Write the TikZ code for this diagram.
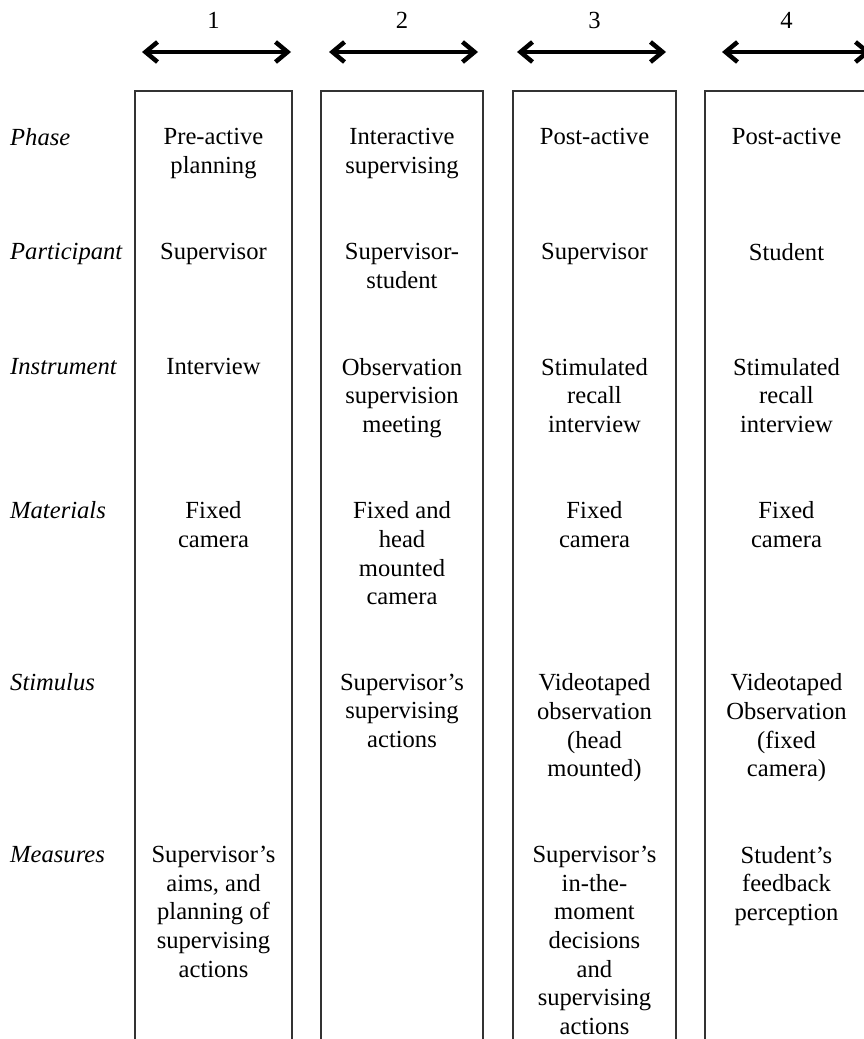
\documentclass[tikz,border=0pt]{standalone}
\usepackage{fontspec}
\setmainfont{Liberation Serif}
\usetikzlibrary{arrows.meta,positioning}

\begin{document}
\begin{tikzpicture}[x=1pt,y=-1pt,>={Straight Barb[length=12pt,width=20pt]},
    every node/.style={inner sep=0pt,font=\fontsize{24.6}{28.7}\selectfont},
    num/.style={anchor=base},
    cell/.style={align=center,anchor=north,yshift=16.7pt},
    row label/.style={anchor=base west,font=\fontsize{24.6}{28.7}\selectfont\itshape},
    col box/.style={draw=black!80,line width=1.4pt},
    span arrow/.style={<->,line width=4.5pt}]
    \useasboundingbox (0,0) rectangle (864,1039);
    % phase numbers and arrows
    \node[num] (n1) at (213.5,28) {1};
    \node[num] (n2) at (402,28) {2};
    \node[num] (n3) at (594.5,28) {3};
    \node[num] (n4) at (786.5,28) {4};
    \coordinate (a1l) at (142,52);
    \coordinate (a1r) at (291,52);
    \coordinate (a2l) at (329,52);
    \coordinate (a2r) at (478,52);
    \coordinate (a3l) at (517,52);
    \coordinate (a3r) at (666,52);
    \coordinate (a4l) at (722,52);
    \coordinate (a4r) at (871,52);
    \draw[span arrow] (a1l) -- (a1r);
    \draw[span arrow] (a2l) -- (a2r);
    \draw[span arrow] (a3l) -- (a3r);
    \draw[span arrow] (a4l) -- (a4r);
    % column boxes
    \draw[col box] (135,91) rectangle (292,1060);
    \draw[col box] (321,91) rectangle (483,1060);
    \draw[col box] (513,91) rectangle (676,1060);
    \draw[col box] (705,91) rectangle (868,1060);
    % row labels
    \node[row label] (phase) at (10,145) {Phase};
    \node[row label] (participant) at (10,259.8) {Participant};
    \node[row label] (instrument) at (10,374.6) {Instrument};
    \node[row label] (materials) at (10,518.1) {Materials};
    \node[row label] (stimulus) at (10,690.3) {Stimulus};
    \node[row label] (measures) at (10,862.5) {Measures};
    % column 1
    \node[cell] (ph1) at (213.5,145) {Pre-active\\planning};
    \node[cell] (pa1) at (213.5,259.8) {Supervisor};
    \node[cell] (in1) at (213.5,374.6) {Interview};
    \node[cell] (ma1) at (213.5,518.1) {Fixed\\camera};
    \node[cell] (me1) at (213.5,862.5) {Supervisor's\\aims, and\\planning of\\supervising\\actions};
    % column 2
    \node[cell] (ph2) at (402,145) {Interactive\\supervising};
    \node[cell] (pa2) at (402,259.8) {Supervisor-\\student};
    \node[cell] (in2) at (402,374.6) {Observation\\supervision\\meeting};
    \node[cell] (ma2) at (402,518.1) {Fixed and\\head\\mounted\\camera};
    \node[cell] (st2) at (402,690.3) {Supervisor's\\supervising\\actions};
    % column 3
    \node[cell] (ph3) at (594.5,145) {Post-active};
    \node[cell] (pa3) at (594.5,259.8) {Supervisor};
    \node[cell] (in3) at (594.5,374.6) {Stimulated\\recall\\interview};
    \node[cell] (ma3) at (594.5,518.1) {Fixed\\camera};
    \node[cell] (st3) at (594.5,690.3) {Videotaped\\observation\\(head\\mounted)};
    \node[cell] (me3) at (594.5,862.5) {Supervisor's\\in-the-\\moment\\decisions\\and\\supervising\\actions};
    % column 4
    \node[cell] (ph4) at (786.5,145) {Post-active};
    \node[cell] (pa4) at (786.5,259.8) {Student};
    \node[cell] (in4) at (786.5,374.6) {Stimulated\\recall\\interview};
    \node[cell] (ma4) at (786.5,518.1) {Fixed\\camera};
    \node[cell] (st4) at (786.5,690.3) {Videotaped\\Observation\\(fixed\\camera)};
    \node[cell] (me4) at (786.5,862.5) {Student's\\feedback\\perception};
\end{tikzpicture}
\end{document}
